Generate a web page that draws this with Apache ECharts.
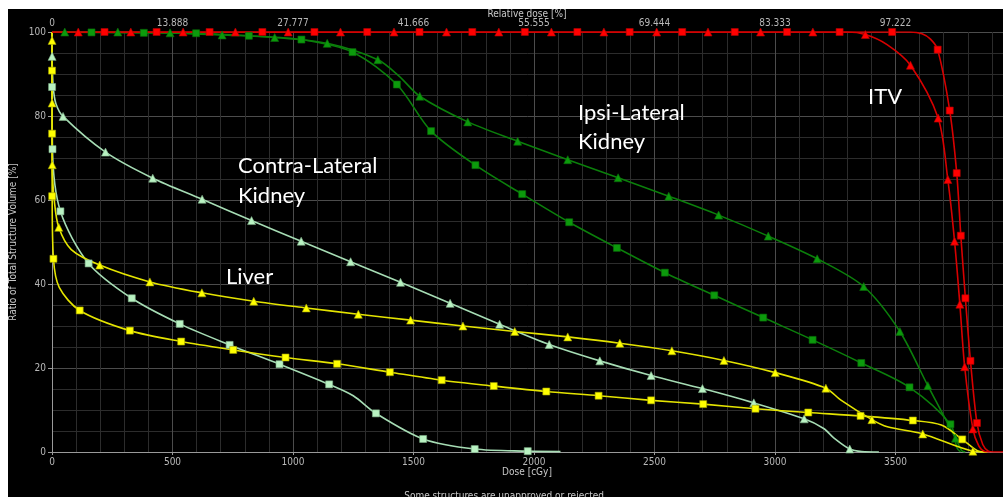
<!DOCTYPE html>
<html><head><meta charset="utf-8">
<script src="https://cdn.jsdelivr.net/npm/echarts@6/dist/echarts.min.js"></script>
<style>
html,body{margin:0;padding:0;background:#fff;width:1003px;height:497px;overflow:hidden}
#c{position:absolute;left:8px;top:9px;width:995px;height:488px;background:#000}
</style></head><body><div id="c"></div>
<script>
// ---- tick labels ----
const doseTicks = [0, 500, 1000, 1500, 2000, 2500, 3000, 3500];
const relDoseLabels = ['0', '13.888', '27.777', '41.666', '55.555', '69.444', '83.333', '97.222'];
const volTicks = [0, 20, 40, 60, 80, 100];

// ---- ITV (red) ----
const itvSqMarks = [[218,100],[434,100],[654,100],[873,100],[1089,100],[1308,100],[1525,100],[1744,100],[1962,100],[2180,100],[2397,100],[2615,100],[2833,100],[3050,100],[3268,100],[3486,100],[3675,95.8],[3725,81.3],[3754,66.4],[3771,51.5],[3790,36.6],[3811,21.7],[3838,6.9]];
const itvSqExtra = [[0,100],[3560,100],[3610,99.6],[3645,98.3],[3862,1.8],[3885,0.2],[3905,0],[3946,0]];
const itvTriMarks = [[109,100],[327,100],[544,100],[761,100],[980,100],[1197,100],[1419,100],[1637,100],[1854,100],[2072,100],[2290,100],[2509,100],[2722,100],[2940,100],[3157,100],[3375,99.4],[3562,92.1],[3677,79.5],[3717,64.9],[3745,50.2],[3767,35.2],[3787,20.3],[3821,5.5]];
const itvTriExtra = [[0,100],[3300,100],[3465,97.0],[3845,1.5],[3870,0.1],[3890,0]];

// ---- Ipsi-lateral kidney (green) ----
const ipsiSqMarks = [[164,99.9],[381,99.8],[598,99.7],[817,99.1],[1035,98.2],[1247,95.2],[1431,87.5],[1573,76.4],[1757,68.3],[1951,61.4],[2146,54.7],[2344,48.6],[2543,42.7],[2748,37.3],[2951,32.0],[3156,26.7],[3358,21.2],[3558,15.4],[3728,6.6]];
const ipsiSqExtra = [[0,100],[3755,1.0],[3770,0]];
const ipsiTriMarks = [[53,100],[273,100],[490,99.8],[706,99.3],[924,98.7],[1142,97.3],[1352,93.4],[1526,84.7],[1725,78.6],[1932,74.0],[2140,69.6],[2349,65.3],[2559,60.9],[2766,56.4],[2972,51.4],[3175,46.0],[3368,39.4],[3518,28.7],[3634,15.8],[3749,3.3]];
const ipsiTriExtra = [[0,100],[1440,89.5],[3775,0.3],[3790,0]];

// ---- Contra-lateral kidney (light green) ----
const contraTriMarks = [[0.4,94.2],[46,79.9],[222,71.4],[418,65.2],[623,60.2],[828,55.1],[1034,50.2],[1239,45.3],[1446,40.4],[1652,35.4],[1857,30.4],[2063,25.6],[2273,21.7],[2486,18.2],[2699,15.1],[2912,11.7],[3121,7.9],[3310,0.7]];
const contraTriExtra = [[0,100],[5,87],[16,83],[3202,5.6],[3245,3.3],[3360,0.1],[3431,0]];
const contraSqMarks = [[0.4,86.9],[2,72.1],[35,57.3],[152,44.9],[331,36.6],[530,30.5],[737,25.5],[944,20.9],[1150,16.1],[1344,9.2],[1540,3.1],[1754,0.7],[1974,0.2]];
const contraSqExtra = [[0,100],[1250,13.4],[2110,0.1]];

// ---- Liver (yellow) ----
const liverTriMarks = [[0.3,98.0],[0.6,83.1],[1,68.4],[28,53.5],[198,44.5],[406,40.5],[622,37.9],[837,35.9],[1055,34.3],[1271,32.8],[1488,31.4],[1705,30.0],[1920,28.7],[2140,27.4],[2356,25.9],[2572,24.1],[2788,21.8],[3001,18.9],[3211,15.2],[3402,7.7],[3613,4.3],[3821,0.2]];
const liverTriExtra = [[0,100],[10,59.6],[80,48.2],[3272,12.4],[3466,6.0],[3880,0]];
const liverSqMarks = [[0.2,90.8],[0.4,75.8],[0.7,60.9],[6,46.0],[115,33.7],[323,28.9],[536,26.3],[752,24.3],[969,22.5],[1183,21.0],[1402,19.0],[1617,17.1],[1833,15.7],[2051,14.4],[2268,13.4],[2486,12.3],[2702,11.4],[2919,10.3],[3138,9.4],[3355,8.6],[3572,7.5],[3777,3.0]];
const liverSqExtra = [[0,100],[30,39.2],[3690,6.4],[3840,0.3],[3880,0]];

// ---- annotations ----
const labels = [
  {text: 'Ipsi-Lateral', x: 578, y: 115},
  {text: 'Kidney', x: 578, y: 144},
  {text: 'Contra-Lateral', x: 238, y: 168},
  {text: 'Kidney', x: 238, y: 198},
  {text: 'Liver', x: 226, y: 279},
  {text: 'ITV', x: 868, y: 99}
];

function lineData(marks, extra) {
  return marks.concat(extra).slice().sort((a, b) => (a[0] - b[0]) || (b[1] - a[1]));
}

const curves = [
  {marks: ipsiTriMarks, extra: ipsiTriExtra, line: '#0b7f0b', fill: '#0c9a0c', border: '#0a6a0a', sym: 'triangle'},
  {marks: ipsiSqMarks, extra: ipsiSqExtra, line: '#0b7f0b', fill: '#0c9a0c', border: '#0a6a0a', sym: 'rect'},
  {marks: contraTriMarks, extra: contraTriExtra, line: '#a6dcb4', fill: '#b9f2c2', border: '#7fb08a', sym: 'triangle'},
  {marks: contraSqMarks, extra: contraSqExtra, line: '#a6dcb4', fill: '#b9f2c2', border: '#7fb08a', sym: 'rect'},
  {marks: liverTriMarks, extra: liverTriExtra, line: '#e4e400', fill: '#ffff00', border: '#a0a000', sym: 'triangle'},
  {marks: liverSqMarks, extra: liverSqExtra, line: '#e4e400', fill: '#ffff00', border: '#a0a000', sym: 'rect'},
  {marks: itvTriMarks, extra: itvTriExtra, line: '#d80000', fill: '#ff0000', border: '#b00000', sym: 'triangle'},
  {marks: itvSqMarks, extra: itvSqExtra, line: '#d80000', fill: '#ff0000', border: '#b00000', sym: 'rect'}
];

const series = [];
curves.forEach(c => {
  series.push({
    type: 'line', data: lineData(c.marks, c.extra), showSymbol: false, smooth: 0.3,
    lineStyle: {color: c.line, width: 1.6}, z: 3, silent: true, animation: false, clip: true
  });
});
curves.forEach(c => {
  series.push({
    type: 'scatter', data: c.marks, symbol: c.sym, symbolSize: c.sym === 'rect' ? 7 : 8,
    itemStyle: {color: c.fill, borderColor: c.border, borderWidth: 0.6, opacity: 1}, z: 4, animation: false, clip: false
  });
});

const axisFont = "'Liberation Sans Narrow', 'DejaVu Sans Condensed', sans-serif";
const tickColor = '#b8b8b8';
const nameColor = '#c8c8c8';
const xMax = 3946;

const chart = echarts.init(document.getElementById('c'), null, {renderer: 'canvas'});
chart.setOption({
  backgroundColor: '#000',
  animation: false,
  grid: {left: 44, top: 23, right: 0, bottom: 45, containLabel: false, outerBoundsMode: 'none'},
  xAxis: [
    {type: 'value', position: 'bottom', min: 0, max: xMax, interval: 500,
     axisLine: {show: true, onZero: false, lineStyle: {color: '#9a9a9a', width: 1}},
     axisTick: {show: true, length: 3, lineStyle: {color: '#9a9a9a'}},
     axisLabel: {color: tickColor, fontSize: 10, fontFamily: axisFont, margin: 5,
       formatter: v => doseTicks.indexOf(v) >= 0 ? String(v) : ''},
     splitLine: {show: false}},
    {type: 'value', position: 'top', min: 0, max: xMax, interval: 500,
     axisLine: {show: false}, axisTick: {show: false},
     axisLabel: {color: tickColor, fontSize: 10, fontFamily: axisFont, margin: 4,
       formatter: v => { const i = doseTicks.indexOf(v); return i >= 0 ? relDoseLabels[i] : ''; }},
     splitLine: {show: false}},
    {type: 'value', position: 'bottom', min: 0, max: xMax, interval: 100, show: true,
     axisLine: {show: false}, axisTick: {show: false}, axisLabel: {show: false},
     splitLine: {show: true, lineStyle: {color: ['#4c4c4c', '#2c2c2c', '#2c2c2c', '#2c2c2c', '#2c2c2c'], width: 1}}}
  ],
  yAxis: [
    {type: 'value', position: 'left', min: 0, max: 100, interval: 20,
     name: 'Ratio of Total Structure Volume [%]', nameLocation: 'middle', nameGap: 34, nameRotate: 90,
     nameTextStyle: {color: nameColor, fontSize: 10, fontFamily: axisFont},
     axisLine: {show: true, lineStyle: {color: '#9a9a9a', width: 1}},
     axisTick: {show: true, length: 4, lineStyle: {color: '#9a9a9a'}},
     axisLabel: {color: tickColor, fontSize: 10, fontFamily: axisFont, margin: 6,
       formatter: v => volTicks.indexOf(v) >= 0 ? String(v) : ''},
     splitLine: {show: false}},
    {type: 'value', position: 'left', min: 0, max: 100, interval: 5,
     axisLine: {show: false}, axisTick: {show: false}, axisLabel: {show: false},
     splitLine: {show: true, lineStyle: {color: ['#4c4c4c', '#2c2c2c', '#2c2c2c', '#2c2c2c'], width: 1}}}
  ],
  graphic: labels.map(l => ({
    type: 'text', left: l.x - 8, top: l.y - 9 - 13, silent: true, z: 10,
    style: {text: l.text, fill: '#ffffff', font: "22px Lato, 'Open Sans', sans-serif"}
  })).concat([
    {type: 'text', x: 519, y: 5, silent: true,
     style: {text: 'Relative dose [%]', fill: nameColor, font: "10px " + axisFont, align: 'center', verticalAlign: 'middle', textAlign: 'center', textVerticalAlign: 'middle'}},
    {type: 'text', x: 519, y: 463, silent: true,
     style: {text: 'Dose [cGy]', fill: nameColor, font: "10px " + axisFont, align: 'center', verticalAlign: 'middle', textAlign: 'center', textVerticalAlign: 'middle'}},
    {type: 'text', left: 'center', top: 482, silent: true,
     style: {text: 'Some structures are unapproved or rejected.', fill: nameColor, font: "10px " + axisFont}}
  ]),
  series: series
});
</script></body></html>
